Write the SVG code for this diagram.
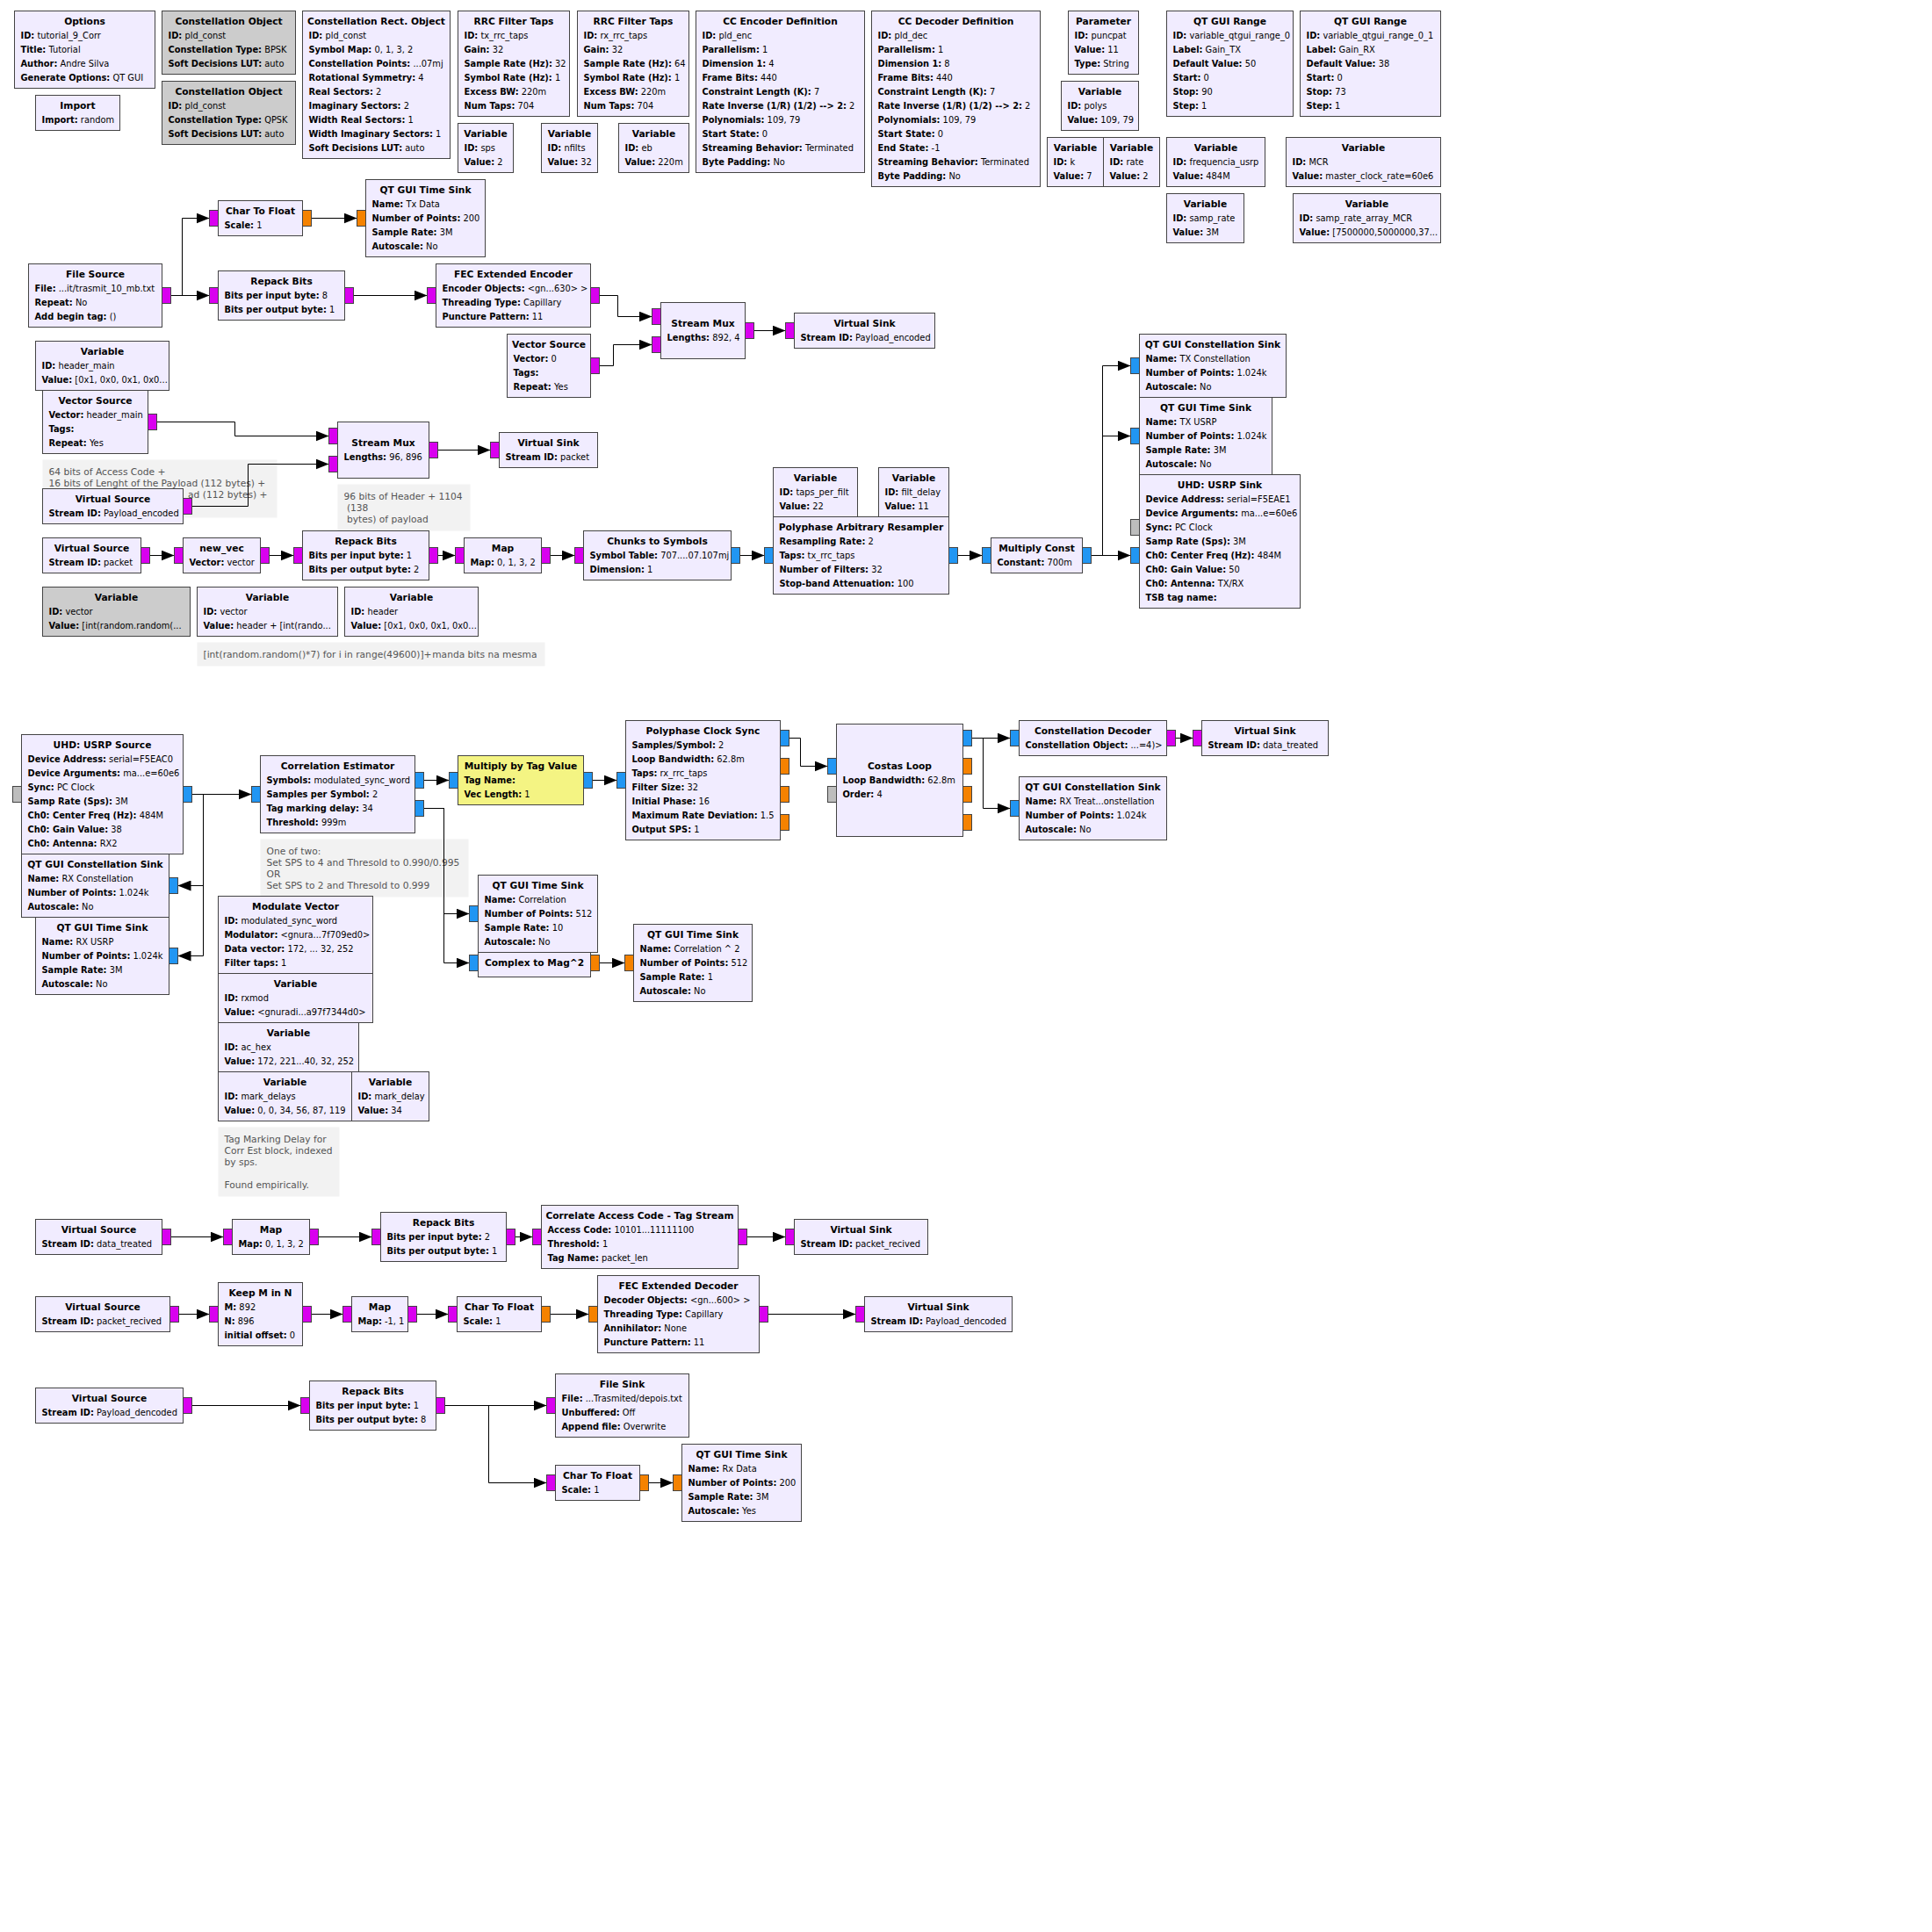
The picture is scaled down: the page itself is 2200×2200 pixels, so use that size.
<svg xmlns="http://www.w3.org/2000/svg" width="2200" height="2200" viewBox="0 0 2200 2200">
<style>
.b{fill:#f1ecff;stroke:#444;stroke-width:1}
.d{fill:#cccccc;stroke:#444;stroke-width:1}
.yb{fill:#f4f483;stroke:#444;stroke-width:1}
.t{font-family:"DejaVu Sans",sans-serif;font-weight:bold;font-size:10.67px;text-anchor:middle;fill:#000}
.p{font-family:"DejaVu Sans",sans-serif;font-size:9.85px;fill:#000}
.k{font-weight:bold}
.cb{fill:#f2f2f2}
.ct{font-family:"DejaVu Sans",sans-serif;font-size:10.67px;fill:#555}
.pm{fill:#d900ef;stroke:#444;stroke-width:1}
.pc{fill:#2196f3;stroke:#444;stroke-width:1}
.pf{fill:#f58200;stroke:#444;stroke-width:1}
.pg{fill:#bdbdbd;stroke:#444;stroke-width:1}
.w{fill:none;stroke:#000;stroke-width:1;marker-end:url(#ah)}
</style>
<defs>
<marker id="ah" markerWidth="15" markerHeight="12" refX="15" refY="6" orient="auto" markerUnits="userSpaceOnUse"><path d="M0,0 L15,6 L0,12 z" fill="#000"/></marker>
<clipPath id="clipc3"><rect x="490" y="731" width="130" height="27"/></clipPath>
</defs>
<rect x="0" y="0" width="2200" height="2200" fill="#fff"/>
<g transform="translate(.5 .5)">

<!-- comment boxes sit underneath everything -->
<g id="comments">
<g id="comment_header_bits"><rect class="cb" x="48" y="523" width="267" height="66"/>
<text class="ct" x="55" y="540">64 bits of Access Code +</text>
<text class="ct" x="55" y="553">16 bits of Lenght of the Payload (112 bytes) +</text>
<text class="ct" x="304" y="566" text-anchor="end">ad (112 bytes) +</text></g>
<g id="comment_packet_bits"><rect class="cb" x="384" y="551" width="151" height="53"/>
<text class="ct" x="391" y="568" xml:space="preserve">96 bits of Header + 1104</text>
<text class="ct" x="391" y="581" xml:space="preserve"> (138</text>
<text class="ct" x="391" y="594" xml:space="preserve"> bytes) of payload</text></g>
<g id="comment_vector"><rect class="cb" x="224" y="731" width="396" height="27"/>
<text class="ct" x="231" y="748">[int(random.random()*7) for i in range(49600)]+</text>
<text class="ct" x="611" y="748" text-anchor="end" clip-path="url(#clipc3)">manda bits na mesma</text></g>
<g id="comment_sps"><rect class="cb" x="296" y="955" width="237" height="66"/>
<text class="ct" x="303" y="972">One of two:</text>
<text class="ct" x="303" y="985">Set SPS to 4 and Thresold to 0.990/0.995</text>
<text class="ct" x="303" y="998">OR</text>
<text class="ct" x="303" y="1011">Set SPS to 2 and Thresold to 0.999</text></g>
<g id="comment_delay"><rect class="cb" x="248" y="1283" width="138" height="79"/>
<text class="ct" x="255" y="1300">Tag Marking Delay for</text>
<text class="ct" x="255" y="1313">Corr Est block, indexed</text>
<text class="ct" x="255" y="1326">by sps.</text>
<text class="ct" x="255" y="1352">Found empirically.</text></g>
</g>

<!-- connections -->
<g id="connectors">
<path class="w" d="M194,336 H207 V248 H238"/>
<path class="w" d="M194,336 H238"/>
<path class="w" d="M354,248 H406"/>
<path class="w" d="M402,336 H486"/>
<path class="w" d="M682,336 H703 V360 H742"/>
<path class="w" d="M682,416 H698 V392 H742"/>
<path class="w" d="M858,376 H894"/>
<path class="w" d="M178,480 H267 V496 H374"/>
<path class="w" d="M218,576 H282 V528 H374"/>
<path class="w" d="M498,512 H558"/>
<path class="w" d="M170,632 H198"/>
<path class="w" d="M306,632 H334"/>
<path class="w" d="M498,632 H518"/>
<path class="w" d="M626,632 H654"/>
<path class="w" d="M842,632 H870"/>
<path class="w" d="M1090,632 H1118"/>
<path class="w" d="M1242,632 H1287"/>
<path class="w" d="M1242,632 H1255 V416 H1287"/>
<path class="w" d="M1242,632 H1255 V496 H1287"/>
<path class="w" d="M218,904 H286"/>
<path class="w" d="M218,904 H231 V1008 H202"/>
<path class="w" d="M218,904 H231 V1088 H202"/>
<path class="w" d="M482,888 H511"/>
<path class="w" d="M482,920 H505 V1040 H534"/>
<path class="w" d="M482,920 H505 V1096 H534"/>
<path class="w" d="M674,888 H702"/>
<path class="w" d="M898,840 H911 V872 H942"/>
<path class="w" d="M1106,840 H1150"/>
<path class="w" d="M1106,840 H1119 V920 H1150"/>
<path class="w" d="M1338,840 H1358"/>
<path class="w" d="M682,1096 H711"/>
<path class="w" d="M194,1408 H254"/>
<path class="w" d="M362,1408 H423"/>
<path class="w" d="M586,1408 H606"/>
<path class="w" d="M850,1408 H894"/>
<path class="w" d="M203,1496 H238"/>
<path class="w" d="M354,1496 H390"/>
<path class="w" d="M474,1496 H510"/>
<path class="w" d="M626,1496 H670"/>
<path class="w" d="M874,1496 H974"/>
<path class="w" d="M218,1600 H342"/>
<path class="w" d="M506,1600 H622"/>
<path class="w" d="M506,1600 H556 V1688 H622"/>
<path class="w" d="M738,1688 H766"/>
</g>

<!-- configuration blocks -->
<g id="options"><rect class="b" x="16" y="12" width="160" height="88"/>
<text class="t" x="96" y="27">Options</text>
<text class="p" x="23" y="43"><tspan class="k">ID:</tspan> tutorial_9_Corr</text>
<text class="p" x="23" y="59"><tspan class="k">Title:</tspan> Tutorial</text>
<text class="p" x="23" y="75"><tspan class="k">Author:</tspan> Andre Silva</text>
<text class="p" x="23" y="91"><tspan class="k">Generate Options:</tspan> QT GUI</text></g>

<g id="import"><rect class="b" x="40" y="108" width="96" height="40"/>
<text class="t" x="88" y="123">Import</text>
<text class="p" x="47" y="139"><tspan class="k">Import:</tspan> random</text></g>

<g id="const_bpsk"><rect class="d" x="184" y="12" width="152" height="72"/>
<text class="t" x="260" y="27">Constellation Object</text>
<text class="p" x="191" y="43"><tspan class="k">ID:</tspan> pld_const</text>
<text class="p" x="191" y="59"><tspan class="k">Constellation Type:</tspan> BPSK</text>
<text class="p" x="191" y="75"><tspan class="k">Soft Decisions LUT:</tspan> auto</text></g>

<g id="const_qpsk"><rect class="d" x="184" y="92" width="152" height="72"/>
<text class="t" x="260" y="107">Constellation Object</text>
<text class="p" x="191" y="123"><tspan class="k">ID:</tspan> pld_const</text>
<text class="p" x="191" y="139"><tspan class="k">Constellation Type:</tspan> QPSK</text>
<text class="p" x="191" y="155"><tspan class="k">Soft Decisions LUT:</tspan> auto</text></g>

<g id="const_rect"><rect class="b" x="344" y="12" width="168" height="168"/>
<text class="t" x="428" y="27">Constellation Rect. Object</text>
<text class="p" x="351" y="43"><tspan class="k">ID:</tspan> pld_const</text>
<text class="p" x="351" y="59"><tspan class="k">Symbol Map:</tspan> 0, 1, 3, 2</text>
<text class="p" x="351" y="75"><tspan class="k">Constellation Points:</tspan> ...07mj</text>
<text class="p" x="351" y="91"><tspan class="k">Rotational Symmetry:</tspan> 4</text>
<text class="p" x="351" y="107"><tspan class="k">Real Sectors:</tspan> 2</text>
<text class="p" x="351" y="123"><tspan class="k">Imaginary Sectors:</tspan> 2</text>
<text class="p" x="351" y="139"><tspan class="k">Width Real Sectors:</tspan> 1</text>
<text class="p" x="351" y="155"><tspan class="k">Width Imaginary Sectors:</tspan> 1</text>
<text class="p" x="351" y="171"><tspan class="k">Soft Decisions LUT:</tspan> auto</text></g>

<g id="rrc_tx"><rect class="b" x="521" y="12" width="127" height="120"/>
<text class="t" x="584.5" y="27">RRC Filter Taps</text>
<text class="p" x="528" y="43"><tspan class="k">ID:</tspan> tx_rrc_taps</text>
<text class="p" x="528" y="59"><tspan class="k">Gain:</tspan> 32</text>
<text class="p" x="528" y="75"><tspan class="k">Sample Rate (Hz):</tspan> 32</text>
<text class="p" x="528" y="91"><tspan class="k">Symbol Rate (Hz):</tspan> 1</text>
<text class="p" x="528" y="107"><tspan class="k">Excess BW:</tspan> 220m</text>
<text class="p" x="528" y="123"><tspan class="k">Num Taps:</tspan> 704</text></g>

<g id="var_sps"><rect class="b" x="521" y="140" width="63" height="56"/>
<text class="t" x="552.5" y="155">Variable</text>
<text class="p" x="528" y="171"><tspan class="k">ID:</tspan> sps</text>
<text class="p" x="528" y="187"><tspan class="k">Value:</tspan> 2</text></g>

<g id="rrc_rx"><rect class="b" x="657" y="12" width="127" height="120"/>
<text class="t" x="720.5" y="27">RRC Filter Taps</text>
<text class="p" x="664" y="43"><tspan class="k">ID:</tspan> rx_rrc_taps</text>
<text class="p" x="664" y="59"><tspan class="k">Gain:</tspan> 32</text>
<text class="p" x="664" y="75"><tspan class="k">Sample Rate (Hz):</tspan> 64</text>
<text class="p" x="664" y="91"><tspan class="k">Symbol Rate (Hz):</tspan> 1</text>
<text class="p" x="664" y="107"><tspan class="k">Excess BW:</tspan> 220m</text>
<text class="p" x="664" y="123"><tspan class="k">Num Taps:</tspan> 704</text></g>

<g id="var_nfilts"><rect class="b" x="616" y="140" width="64" height="56"/>
<text class="t" x="648" y="155">Variable</text>
<text class="p" x="623" y="171"><tspan class="k">ID:</tspan> nfilts</text>
<text class="p" x="623" y="187"><tspan class="k">Value:</tspan> 32</text></g>

<g id="var_eb"><rect class="b" x="704" y="140" width="80" height="56"/>
<text class="t" x="744" y="155">Variable</text>
<text class="p" x="711" y="171"><tspan class="k">ID:</tspan> eb</text>
<text class="p" x="711" y="187"><tspan class="k">Value:</tspan> 220m</text></g>

<g id="cc_encoder"><rect class="b" x="792" y="12" width="192" height="184"/>
<text class="t" x="888" y="27">CC Encoder Definition</text>
<text class="p" x="799" y="43"><tspan class="k">ID:</tspan> pld_enc</text>
<text class="p" x="799" y="59"><tspan class="k">Parallelism:</tspan> 1</text>
<text class="p" x="799" y="75"><tspan class="k">Dimension 1:</tspan> 4</text>
<text class="p" x="799" y="91"><tspan class="k">Frame Bits:</tspan> 440</text>
<text class="p" x="799" y="107"><tspan class="k">Constraint Length (K):</tspan> 7</text>
<text class="p" x="799" y="123"><tspan class="k">Rate Inverse (1/R) (1/2) --&gt; 2:</tspan> 2</text>
<text class="p" x="799" y="139"><tspan class="k">Polynomials:</tspan> 109, 79</text>
<text class="p" x="799" y="155"><tspan class="k">Start State:</tspan> 0</text>
<text class="p" x="799" y="171"><tspan class="k">Streaming Behavior:</tspan> Terminated</text>
<text class="p" x="799" y="187"><tspan class="k">Byte Padding:</tspan> No</text></g>

<g id="cc_decoder"><rect class="b" x="992" y="12" width="192" height="200"/>
<text class="t" x="1088" y="27">CC Decoder Definition</text>
<text class="p" x="999" y="43"><tspan class="k">ID:</tspan> pld_dec</text>
<text class="p" x="999" y="59"><tspan class="k">Parallelism:</tspan> 1</text>
<text class="p" x="999" y="75"><tspan class="k">Dimension 1:</tspan> 8</text>
<text class="p" x="999" y="91"><tspan class="k">Frame Bits:</tspan> 440</text>
<text class="p" x="999" y="107"><tspan class="k">Constraint Length (K):</tspan> 7</text>
<text class="p" x="999" y="123"><tspan class="k">Rate Inverse (1/R) (1/2) --&gt; 2:</tspan> 2</text>
<text class="p" x="999" y="139"><tspan class="k">Polynomials:</tspan> 109, 79</text>
<text class="p" x="999" y="155"><tspan class="k">Start State:</tspan> 0</text>
<text class="p" x="999" y="171"><tspan class="k">End State:</tspan> -1</text>
<text class="p" x="999" y="187"><tspan class="k">Streaming Behavior:</tspan> Terminated</text>
<text class="p" x="999" y="203"><tspan class="k">Byte Padding:</tspan> No</text></g>

<g id="param_puncpat"><rect class="b" x="1216" y="12" width="80" height="72"/>
<text class="t" x="1256" y="27">Parameter</text>
<text class="p" x="1223" y="43"><tspan class="k">ID:</tspan> puncpat</text>
<text class="p" x="1223" y="59"><tspan class="k">Value:</tspan> 11</text>
<text class="p" x="1223" y="75"><tspan class="k">Type:</tspan> String</text></g>

<g id="var_polys"><rect class="b" x="1208" y="92" width="88" height="56"/>
<text class="t" x="1252" y="107">Variable</text>
<text class="p" x="1215" y="123"><tspan class="k">ID:</tspan> polys</text>
<text class="p" x="1215" y="139"><tspan class="k">Value:</tspan> 109, 79</text></g>

<g id="var_k"><rect class="b" x="1192" y="156" width="64" height="56"/>
<text class="t" x="1224" y="171">Variable</text>
<text class="p" x="1199" y="187"><tspan class="k">ID:</tspan> k</text>
<text class="p" x="1199" y="203"><tspan class="k">Value:</tspan> 7</text></g>

<g id="var_rate"><rect class="b" x="1256" y="156" width="64" height="56"/>
<text class="t" x="1288" y="171">Variable</text>
<text class="p" x="1263" y="187"><tspan class="k">ID:</tspan> rate</text>
<text class="p" x="1263" y="203"><tspan class="k">Value:</tspan> 2</text></g>

<g id="range_tx"><rect class="b" x="1328" y="12" width="144" height="120"/>
<text class="t" x="1400" y="27">QT GUI Range</text>
<text class="p" x="1335" y="43"><tspan class="k">ID:</tspan> variable_qtgui_range_0</text>
<text class="p" x="1335" y="59"><tspan class="k">Label:</tspan> Gain_TX</text>
<text class="p" x="1335" y="75"><tspan class="k">Default Value:</tspan> 50</text>
<text class="p" x="1335" y="91"><tspan class="k">Start:</tspan> 0</text>
<text class="p" x="1335" y="107"><tspan class="k">Stop:</tspan> 90</text>
<text class="p" x="1335" y="123"><tspan class="k">Step:</tspan> 1</text></g>

<g id="range_rx"><rect class="b" x="1480" y="12" width="160" height="120"/>
<text class="t" x="1560" y="27">QT GUI Range</text>
<text class="p" x="1487" y="43"><tspan class="k">ID:</tspan> variable_qtgui_range_0_1</text>
<text class="p" x="1487" y="59"><tspan class="k">Label:</tspan> Gain_RX</text>
<text class="p" x="1487" y="75"><tspan class="k">Default Value:</tspan> 38</text>
<text class="p" x="1487" y="91"><tspan class="k">Start:</tspan> 0</text>
<text class="p" x="1487" y="107"><tspan class="k">Stop:</tspan> 73</text>
<text class="p" x="1487" y="123"><tspan class="k">Step:</tspan> 1</text></g>

<g id="var_freq"><rect class="b" x="1328" y="156" width="112" height="56"/>
<text class="t" x="1384" y="171">Variable</text>
<text class="p" x="1335" y="187"><tspan class="k">ID:</tspan> frequencia_usrp</text>
<text class="p" x="1335" y="203"><tspan class="k">Value:</tspan> 484M</text></g>

<g id="var_mcr"><rect class="b" x="1464" y="156" width="176" height="56"/>
<text class="t" x="1552" y="171">Variable</text>
<text class="p" x="1471" y="187"><tspan class="k">ID:</tspan> MCR</text>
<text class="p" x="1471" y="203"><tspan class="k">Value:</tspan> master_clock_rate=60e6</text></g>

<g id="var_samp_rate"><rect class="b" x="1328" y="220" width="88" height="56"/>
<text class="t" x="1372" y="235">Variable</text>
<text class="p" x="1335" y="251"><tspan class="k">ID:</tspan> samp_rate</text>
<text class="p" x="1335" y="267"><tspan class="k">Value:</tspan> 3M</text></g>

<g id="var_samp_rate_array"><rect class="b" x="1472" y="220" width="168" height="56"/>
<text class="t" x="1556" y="235">Variable</text>
<text class="p" x="1479" y="251"><tspan class="k">ID:</tspan> samp_rate_array_MCR</text>
<text class="p" x="1479" y="267"><tspan class="k">Value:</tspan> [7500000,5000000,37...</text></g>

<!-- transmit chain -->
<g id="char_to_float_tx"><rect class="b" x="248" y="228" width="96" height="40"/>
<text class="t" x="296" y="243">Char To Float</text>
<text class="p" x="255" y="259"><tspan class="k">Scale:</tspan> 1</text>
<rect class="pm" x="238" y="239" width="10" height="18"/><rect class="pf" x="344" y="239" width="10" height="18"/></g>

<g id="time_sink_txdata"><rect class="b" x="416" y="204" width="136" height="88"/>
<text class="t" x="484" y="219">QT GUI Time Sink</text>
<text class="p" x="423" y="235"><tspan class="k">Name:</tspan> Tx Data</text>
<text class="p" x="423" y="251"><tspan class="k">Number of Points:</tspan> 200</text>
<text class="p" x="423" y="267"><tspan class="k">Sample Rate:</tspan> 3M</text>
<text class="p" x="423" y="283"><tspan class="k">Autoscale:</tspan> No</text>
<rect class="pf" x="406" y="239" width="10" height="18"/></g>

<g id="file_source"><rect class="b" x="32" y="300" width="152" height="72"/>
<text class="t" x="108" y="315">File Source</text>
<text class="p" x="39" y="331"><tspan class="k">File:</tspan> ...it/trasmit_10_mb.txt</text>
<text class="p" x="39" y="347"><tspan class="k">Repeat:</tspan> No</text>
<text class="p" x="39" y="363"><tspan class="k">Add begin tag:</tspan> ()</text>
<rect class="pm" x="184" y="327" width="10" height="18"/></g>

<g id="repack_8_1"><rect class="b" x="248" y="308" width="144" height="56"/>
<text class="t" x="320" y="323">Repack Bits</text>
<text class="p" x="255" y="339"><tspan class="k">Bits per input byte:</tspan> 8</text>
<text class="p" x="255" y="355"><tspan class="k">Bits per output byte:</tspan> 1</text>
<rect class="pm" x="238" y="327" width="10" height="18"/><rect class="pm" x="392" y="327" width="10" height="18"/></g>

<g id="fec_encoder"><rect class="b" x="496" y="300" width="176" height="72"/>
<text class="t" x="584" y="315">FEC Extended Encoder</text>
<text class="p" x="503" y="331"><tspan class="k">Encoder Objects:</tspan> &lt;gn...630&gt; &gt;</text>
<text class="p" x="503" y="347"><tspan class="k">Threading Type:</tspan> Capillary</text>
<text class="p" x="503" y="363"><tspan class="k">Puncture Pattern:</tspan> 11</text>
<rect class="pm" x="486" y="327" width="10" height="18"/><rect class="pm" x="672" y="327" width="10" height="18"/></g>

<g id="stream_mux_payload"><rect class="b" x="752" y="344" width="96" height="64"/>
<text class="t" x="800" y="371">Stream Mux</text>
<text class="p" x="759" y="387"><tspan class="k">Lengths:</tspan> 892, 4</text>
<rect class="pm" x="742" y="351" width="10" height="18"/><rect class="pm" x="742" y="383" width="10" height="18"/><rect class="pm" x="848" y="367" width="10" height="18"/></g>

<g id="vsink_payload_encoded"><rect class="b" x="904" y="356" width="160" height="40"/>
<text class="t" x="984" y="371">Virtual Sink</text>
<text class="p" x="911" y="387"><tspan class="k">Stream ID:</tspan> Payload_encoded</text>
<rect class="pm" x="894" y="367" width="10" height="18"/></g>

<g id="vector_source_zero"><rect class="b" x="577" y="380" width="95" height="72"/>
<text class="t" x="624.5" y="395">Vector Source</text>
<text class="p" x="584" y="411"><tspan class="k">Vector:</tspan> 0</text>
<text class="p" x="584" y="427"><tspan class="k">Tags:</tspan></text>
<text class="p" x="584" y="443"><tspan class="k">Repeat:</tspan> Yes</text>
<rect class="pm" x="672" y="407" width="10" height="18"/></g>

<g id="var_header_main"><rect class="b" x="40" y="388" width="152" height="56"/>
<text class="t" x="116" y="403">Variable</text>
<text class="p" x="47" y="419"><tspan class="k">ID:</tspan> header_main</text>
<text class="p" x="47" y="435"><tspan class="k">Value:</tspan> [0x1, 0x0, 0x1, 0x0...</text></g>

<g id="vector_source_header"><rect class="b" x="48" y="444" width="120" height="72"/>
<text class="t" x="108" y="459">Vector Source</text>
<text class="p" x="55" y="475"><tspan class="k">Vector:</tspan> header_main</text>
<text class="p" x="55" y="491"><tspan class="k">Tags:</tspan></text>
<text class="p" x="55" y="507"><tspan class="k">Repeat:</tspan> Yes</text>
<rect class="pm" x="168" y="471" width="10" height="18"/></g>

<g id="stream_mux_packet"><rect class="b" x="384" y="480" width="104" height="64"/>
<text class="t" x="436" y="507">Stream Mux</text>
<text class="p" x="391" y="523"><tspan class="k">Lengths:</tspan> 96, 896</text>
<rect class="pm" x="374" y="487" width="10" height="18"/><rect class="pm" x="374" y="519" width="10" height="18"/><rect class="pm" x="488" y="503" width="10" height="18"/></g>

<g id="vsink_packet"><rect class="b" x="568" y="492" width="112" height="40"/>
<text class="t" x="624" y="507">Virtual Sink</text>
<text class="p" x="575" y="523"><tspan class="k">Stream ID:</tspan> packet</text>
<rect class="pm" x="558" y="503" width="10" height="18"/></g>

<g id="vsource_payload_encoded"><rect class="b" x="48" y="556" width="160" height="40"/>
<text class="t" x="128" y="571">Virtual Source</text>
<text class="p" x="55" y="587"><tspan class="k">Stream ID:</tspan> Payload_encoded</text>
<rect class="pm" x="208" y="567" width="10" height="18"/></g>

<g id="vsource_packet"><rect class="b" x="48" y="612" width="112" height="40"/>
<text class="t" x="104" y="627">Virtual Source</text>
<text class="p" x="55" y="643"><tspan class="k">Stream ID:</tspan> packet</text>
<rect class="pm" x="160" y="623" width="10" height="18"/></g>

<g id="new_vec"><rect class="b" x="208" y="612" width="88" height="40"/>
<text class="t" x="252" y="627">new_vec</text>
<text class="p" x="215" y="643"><tspan class="k">Vector:</tspan> vector</text>
<rect class="pm" x="198" y="623" width="10" height="18"/><rect class="pm" x="296" y="623" width="10" height="18"/></g>

<g id="repack_1_2"><rect class="b" x="344" y="604" width="144" height="56"/>
<text class="t" x="416" y="619">Repack Bits</text>
<text class="p" x="351" y="635"><tspan class="k">Bits per input byte:</tspan> 1</text>
<text class="p" x="351" y="651"><tspan class="k">Bits per output byte:</tspan> 2</text>
<rect class="pm" x="334" y="623" width="10" height="18"/><rect class="pm" x="488" y="623" width="10" height="18"/></g>

<g id="map_tx"><rect class="b" x="528" y="612" width="88" height="40"/>
<text class="t" x="572" y="627">Map</text>
<text class="p" x="535" y="643"><tspan class="k">Map:</tspan> 0, 1, 3, 2</text>
<rect class="pm" x="518" y="623" width="10" height="18"/><rect class="pm" x="616" y="623" width="10" height="18"/></g>

<g id="chunks_to_symbols"><rect class="b" x="664" y="604" width="168" height="56"/>
<text class="t" x="748" y="619">Chunks to Symbols</text>
<text class="p" x="671" y="635"><tspan class="k">Symbol Table:</tspan> 707....07.107mj</text>
<text class="p" x="671" y="651"><tspan class="k">Dimension:</tspan> 1</text>
<rect class="pm" x="654" y="623" width="10" height="18"/><rect class="pc" x="832" y="623" width="10" height="18"/></g>

<g id="var_taps_per_filt"><rect class="b" x="880" y="532" width="96" height="56"/>
<text class="t" x="928" y="547">Variable</text>
<text class="p" x="887" y="563"><tspan class="k">ID:</tspan> taps_per_filt</text>
<text class="p" x="887" y="579"><tspan class="k">Value:</tspan> 22</text></g>

<g id="var_filt_delay"><rect class="b" x="1000" y="532" width="80" height="56"/>
<text class="t" x="1040" y="547">Variable</text>
<text class="p" x="1007" y="563"><tspan class="k">ID:</tspan> filt_delay</text>
<text class="p" x="1007" y="579"><tspan class="k">Value:</tspan> 11</text></g>

<g id="pfb_resampler"><rect class="b" x="880" y="588" width="200" height="88"/>
<text class="t" x="980" y="603">Polyphase Arbitrary Resampler</text>
<text class="p" x="887" y="619"><tspan class="k">Resampling Rate:</tspan> 2</text>
<text class="p" x="887" y="635"><tspan class="k">Taps:</tspan> tx_rrc_taps</text>
<text class="p" x="887" y="651"><tspan class="k">Number of Filters:</tspan> 32</text>
<text class="p" x="887" y="667"><tspan class="k">Stop-band Attenuation:</tspan> 100</text>
<rect class="pc" x="870" y="623" width="10" height="18"/><rect class="pc" x="1080" y="623" width="10" height="18"/></g>

<g id="multiply_const"><rect class="b" x="1128" y="612" width="104" height="40"/>
<text class="t" x="1180" y="627">Multiply Const</text>
<text class="p" x="1135" y="643"><tspan class="k">Constant:</tspan> 700m</text>
<rect class="pc" x="1118" y="623" width="10" height="18"/><rect class="pc" x="1232" y="623" width="10" height="18"/></g>

<g id="const_sink_tx"><rect class="b" x="1297" y="380" width="167" height="72"/>
<text class="t" x="1380.5" y="395">QT GUI Constellation Sink</text>
<text class="p" x="1304" y="411"><tspan class="k">Name:</tspan> TX Constellation</text>
<text class="p" x="1304" y="427"><tspan class="k">Number of Points:</tspan> 1.024k</text>
<text class="p" x="1304" y="443"><tspan class="k">Autoscale:</tspan> No</text>
<rect class="pc" x="1287" y="407" width="10" height="18"/></g>

<g id="time_sink_txusrp"><rect class="b" x="1297" y="452" width="151" height="88"/>
<text class="t" x="1372.5" y="467">QT GUI Time Sink</text>
<text class="p" x="1304" y="483"><tspan class="k">Name:</tspan> TX USRP</text>
<text class="p" x="1304" y="499"><tspan class="k">Number of Points:</tspan> 1.024k</text>
<text class="p" x="1304" y="515"><tspan class="k">Sample Rate:</tspan> 3M</text>
<text class="p" x="1304" y="531"><tspan class="k">Autoscale:</tspan> No</text>
<rect class="pc" x="1287" y="487" width="10" height="18"/></g>

<g id="usrp_sink"><rect class="b" x="1297" y="540" width="183" height="152"/>
<text class="t" x="1388.5" y="555">UHD: USRP Sink</text>
<text class="p" x="1304" y="571"><tspan class="k">Device Address:</tspan> serial=F5EAE1</text>
<text class="p" x="1304" y="587"><tspan class="k">Device Arguments:</tspan> ma...e=60e6</text>
<text class="p" x="1304" y="603"><tspan class="k">Sync:</tspan> PC Clock</text>
<text class="p" x="1304" y="619"><tspan class="k">Samp Rate (Sps):</tspan> 3M</text>
<text class="p" x="1304" y="635"><tspan class="k">Ch0: Center Freq (Hz):</tspan> 484M</text>
<text class="p" x="1304" y="651"><tspan class="k">Ch0: Gain Value:</tspan> 50</text>
<text class="p" x="1304" y="667"><tspan class="k">Ch0: Antenna:</tspan> TX/RX</text>
<text class="p" x="1304" y="683"><tspan class="k">TSB tag name:</tspan></text>
<rect class="pg" x="1287" y="591" width="10" height="18"/><rect class="pc" x="1287" y="623" width="10" height="18"/></g>

<g id="var_vector_disabled"><rect class="d" x="48" y="668" width="168" height="56"/>
<text class="t" x="132" y="683">Variable</text>
<text class="p" x="55" y="699"><tspan class="k">ID:</tspan> vector</text>
<text class="p" x="55" y="715"><tspan class="k">Value:</tspan> [int(random.random(...</text></g>

<g id="var_vector"><rect class="b" x="224" y="668" width="160" height="56"/>
<text class="t" x="304" y="683">Variable</text>
<text class="p" x="231" y="699"><tspan class="k">ID:</tspan> vector</text>
<text class="p" x="231" y="715"><tspan class="k">Value:</tspan> header + [int(rando...</text></g>

<g id="var_header"><rect class="b" x="392" y="668" width="152" height="56"/>
<text class="t" x="468" y="683">Variable</text>
<text class="p" x="399" y="699"><tspan class="k">ID:</tspan> header</text>
<text class="p" x="399" y="715"><tspan class="k">Value:</tspan> [0x1, 0x0, 0x1, 0x0...</text></g>

<!-- receive chain -->
<g id="usrp_source"><rect class="b" x="24" y="836" width="184" height="136"/>
<text class="t" x="116" y="851">UHD: USRP Source</text>
<text class="p" x="31" y="867"><tspan class="k">Device Address:</tspan> serial=F5EAC0</text>
<text class="p" x="31" y="883"><tspan class="k">Device Arguments:</tspan> ma...e=60e6</text>
<text class="p" x="31" y="899"><tspan class="k">Sync:</tspan> PC Clock</text>
<text class="p" x="31" y="915"><tspan class="k">Samp Rate (Sps):</tspan> 3M</text>
<text class="p" x="31" y="931"><tspan class="k">Ch0: Center Freq (Hz):</tspan> 484M</text>
<text class="p" x="31" y="947"><tspan class="k">Ch0: Gain Value:</tspan> 38</text>
<text class="p" x="31" y="963"><tspan class="k">Ch0: Antenna:</tspan> RX2</text>
<rect class="pg" x="14" y="895" width="10" height="18"/><rect class="pc" x="208" y="895" width="10" height="18"/></g>

<g id="const_sink_rx"><rect class="b" x="24" y="972" width="168" height="72"/>
<text class="t" x="108" y="987">QT GUI Constellation Sink</text>
<text class="p" x="31" y="1003"><tspan class="k">Name:</tspan> RX Constellation</text>
<text class="p" x="31" y="1019"><tspan class="k">Number of Points:</tspan> 1.024k</text>
<text class="p" x="31" y="1035"><tspan class="k">Autoscale:</tspan> No</text>
<rect class="pc" x="192" y="999" width="10" height="18"/></g>

<g id="time_sink_rxusrp"><rect class="b" x="40" y="1044" width="152" height="88"/>
<text class="t" x="116" y="1059">QT GUI Time Sink</text>
<text class="p" x="47" y="1075"><tspan class="k">Name:</tspan> RX USRP</text>
<text class="p" x="47" y="1091"><tspan class="k">Number of Points:</tspan> 1.024k</text>
<text class="p" x="47" y="1107"><tspan class="k">Sample Rate:</tspan> 3M</text>
<text class="p" x="47" y="1123"><tspan class="k">Autoscale:</tspan> No</text>
<rect class="pc" x="192" y="1079" width="10" height="18"/></g>

<g id="corr_est"><rect class="b" x="296" y="860" width="176" height="88"/>
<text class="t" x="384" y="875">Correlation Estimator</text>
<text class="p" x="303" y="891"><tspan class="k">Symbols:</tspan> modulated_sync_word</text>
<text class="p" x="303" y="907"><tspan class="k">Samples per Symbol:</tspan> 2</text>
<text class="p" x="303" y="923"><tspan class="k">Tag marking delay:</tspan> 34</text>
<text class="p" x="303" y="939"><tspan class="k">Threshold:</tspan> 999m</text>
<rect class="pc" x="286" y="895" width="10" height="18"/><rect class="pc" x="472" y="879" width="10" height="18"/><rect class="pc" x="472" y="911" width="10" height="18"/></g>

<g id="multiply_by_tag"><rect class="yb" x="521" y="860" width="143" height="56"/>
<text class="t" x="592.5" y="875">Multiply by Tag Value</text>
<text class="p" x="528" y="891"><tspan class="k">Tag Name:</tspan></text>
<text class="p" x="528" y="907"><tspan class="k">Vec Length:</tspan> 1</text>
<rect class="pc" x="511" y="879" width="10" height="18"/><rect class="pc" x="664" y="879" width="10" height="18"/></g>

<g id="clock_sync"><rect class="b" x="712" y="820" width="176" height="136"/>
<text class="t" x="800" y="835">Polyphase Clock Sync</text>
<text class="p" x="719" y="851"><tspan class="k">Samples/Symbol:</tspan> 2</text>
<text class="p" x="719" y="867"><tspan class="k">Loop Bandwidth:</tspan> 62.8m</text>
<text class="p" x="719" y="883"><tspan class="k">Taps:</tspan> rx_rrc_taps</text>
<text class="p" x="719" y="899"><tspan class="k">Filter Size:</tspan> 32</text>
<text class="p" x="719" y="915"><tspan class="k">Initial Phase:</tspan> 16</text>
<text class="p" x="719" y="931"><tspan class="k">Maximum Rate Deviation:</tspan> 1.5</text>
<text class="p" x="719" y="947"><tspan class="k">Output SPS:</tspan> 1</text>
<rect class="pc" x="702" y="879" width="10" height="18"/><rect class="pc" x="888" y="831" width="10" height="18"/><rect class="pf" x="888" y="863" width="10" height="18"/><rect class="pf" x="888" y="895" width="10" height="18"/><rect class="pf" x="888" y="927" width="10" height="18"/></g>

<g id="costas_loop"><rect class="b" x="952" y="824" width="144" height="128"/>
<text class="t" x="1024" y="875">Costas Loop</text>
<text class="p" x="959" y="891"><tspan class="k">Loop Bandwidth:</tspan> 62.8m</text>
<text class="p" x="959" y="907"><tspan class="k">Order:</tspan> 4</text>
<rect class="pc" x="942" y="863" width="10" height="18"/><rect class="pg" x="942" y="895" width="10" height="18"/><rect class="pc" x="1096" y="831" width="10" height="18"/><rect class="pf" x="1096" y="863" width="10" height="18"/><rect class="pf" x="1096" y="895" width="10" height="18"/><rect class="pf" x="1096" y="927" width="10" height="18"/></g>

<g id="const_decoder"><rect class="b" x="1160" y="820" width="168" height="40"/>
<text class="t" x="1244" y="835">Constellation Decoder</text>
<text class="p" x="1167" y="851"><tspan class="k">Constellation Object:</tspan> ...=4)&gt;</text>
<rect class="pc" x="1150" y="831" width="10" height="18"/><rect class="pm" x="1328" y="831" width="10" height="18"/></g>

<g id="vsink_data_treated"><rect class="b" x="1368" y="820" width="144" height="40"/>
<text class="t" x="1440" y="835">Virtual Sink</text>
<text class="p" x="1375" y="851"><tspan class="k">Stream ID:</tspan> data_treated</text>
<rect class="pm" x="1358" y="831" width="10" height="18"/></g>

<g id="const_sink_rxtreated"><rect class="b" x="1160" y="884" width="168" height="72"/>
<text class="t" x="1244" y="899">QT GUI Constellation Sink</text>
<text class="p" x="1167" y="915"><tspan class="k">Name:</tspan> RX Treat...onstellation</text>
<text class="p" x="1167" y="931"><tspan class="k">Number of Points:</tspan> 1.024k</text>
<text class="p" x="1167" y="947"><tspan class="k">Autoscale:</tspan> No</text>
<rect class="pc" x="1150" y="911" width="10" height="18"/></g>

<g id="time_sink_corr"><rect class="b" x="544" y="996" width="136" height="88"/>
<text class="t" x="612" y="1011">QT GUI Time Sink</text>
<text class="p" x="551" y="1027"><tspan class="k">Name:</tspan> Correlation</text>
<text class="p" x="551" y="1043"><tspan class="k">Number of Points:</tspan> 512</text>
<text class="p" x="551" y="1059"><tspan class="k">Sample Rate:</tspan> 10</text>
<text class="p" x="551" y="1075"><tspan class="k">Autoscale:</tspan> No</text>
<rect class="pc" x="534" y="1031" width="10" height="18"/></g>

<g id="complex_to_mag2"><rect class="b" x="544" y="1084" width="128" height="28"/>
<text class="t" x="608" y="1099">Complex to Mag^2</text>
<rect class="pc" x="534" y="1087" width="10" height="18"/><rect class="pf" x="672" y="1087" width="10" height="18"/></g>

<g id="time_sink_corr2"><rect class="b" x="721" y="1052" width="135" height="88"/>
<text class="t" x="788.5" y="1067">QT GUI Time Sink</text>
<text class="p" x="728" y="1083"><tspan class="k">Name:</tspan> Correlation ^ 2</text>
<text class="p" x="728" y="1099"><tspan class="k">Number of Points:</tspan> 512</text>
<text class="p" x="728" y="1115"><tspan class="k">Sample Rate:</tspan> 1</text>
<text class="p" x="728" y="1131"><tspan class="k">Autoscale:</tspan> No</text>
<rect class="pf" x="711" y="1087" width="10" height="18"/></g>

<g id="modulate_vector"><rect class="b" x="248" y="1020" width="176" height="88"/>
<text class="t" x="336" y="1035">Modulate Vector</text>
<text class="p" x="255" y="1051"><tspan class="k">ID:</tspan> modulated_sync_word</text>
<text class="p" x="255" y="1067"><tspan class="k">Modulator:</tspan> &lt;gnura...7f709ed0&gt;</text>
<text class="p" x="255" y="1083"><tspan class="k">Data vector:</tspan> 172, ... 32, 252</text>
<text class="p" x="255" y="1099"><tspan class="k">Filter taps:</tspan> 1</text></g>

<g id="var_rxmod"><rect class="b" x="248" y="1108" width="176" height="56"/>
<text class="t" x="336" y="1123">Variable</text>
<text class="p" x="255" y="1139"><tspan class="k">ID:</tspan> rxmod</text>
<text class="p" x="255" y="1155"><tspan class="k">Value:</tspan> &lt;gnuradi...a97f7344d0&gt;</text></g>

<g id="var_ac_hex"><rect class="b" x="248" y="1164" width="160" height="56"/>
<text class="t" x="328" y="1179">Variable</text>
<text class="p" x="255" y="1195"><tspan class="k">ID:</tspan> ac_hex</text>
<text class="p" x="255" y="1211"><tspan class="k">Value:</tspan> 172, 221...40, 32, 252</text></g>

<g id="var_mark_delays"><rect class="b" x="248" y="1220" width="152" height="56"/>
<text class="t" x="324" y="1235">Variable</text>
<text class="p" x="255" y="1251"><tspan class="k">ID:</tspan> mark_delays</text>
<text class="p" x="255" y="1267"><tspan class="k">Value:</tspan> 0, 0, 34, 56, 87, 119</text></g>

<g id="var_mark_delay"><rect class="b" x="400" y="1220" width="88" height="56"/>
<text class="t" x="444" y="1235">Variable</text>
<text class="p" x="407" y="1251"><tspan class="k">ID:</tspan> mark_delay</text>
<text class="p" x="407" y="1267"><tspan class="k">Value:</tspan> 34</text></g>

<!-- packet recovery -->
<g id="vsource_data_treated"><rect class="b" x="40" y="1388" width="144" height="40"/>
<text class="t" x="112" y="1403">Virtual Source</text>
<text class="p" x="47" y="1419"><tspan class="k">Stream ID:</tspan> data_treated</text>
<rect class="pm" x="184" y="1399" width="10" height="18"/></g>

<g id="map_rx"><rect class="b" x="264" y="1388" width="88" height="40"/>
<text class="t" x="308" y="1403">Map</text>
<text class="p" x="271" y="1419"><tspan class="k">Map:</tspan> 0, 1, 3, 2</text>
<rect class="pm" x="254" y="1399" width="10" height="18"/><rect class="pm" x="352" y="1399" width="10" height="18"/></g>

<g id="repack_2_1"><rect class="b" x="433" y="1380" width="143" height="56"/>
<text class="t" x="504.5" y="1395">Repack Bits</text>
<text class="p" x="440" y="1411"><tspan class="k">Bits per input byte:</tspan> 2</text>
<text class="p" x="440" y="1427"><tspan class="k">Bits per output byte:</tspan> 1</text>
<rect class="pm" x="423" y="1399" width="10" height="18"/><rect class="pm" x="576" y="1399" width="10" height="18"/></g>

<g id="correlate_access_code"><rect class="b" x="616" y="1372" width="224" height="72"/>
<text class="t" x="728" y="1387">Correlate Access Code - Tag Stream</text>
<text class="p" x="623" y="1403"><tspan class="k">Access Code:</tspan> 10101...11111100</text>
<text class="p" x="623" y="1419"><tspan class="k">Threshold:</tspan> 1</text>
<text class="p" x="623" y="1435"><tspan class="k">Tag Name:</tspan> packet_len</text>
<rect class="pm" x="606" y="1399" width="10" height="18"/><rect class="pm" x="840" y="1399" width="10" height="18"/></g>

<g id="vsink_packet_recived"><rect class="b" x="904" y="1388" width="152" height="40"/>
<text class="t" x="980" y="1403">Virtual Sink</text>
<text class="p" x="911" y="1419"><tspan class="k">Stream ID:</tspan> packet_recived</text>
<rect class="pm" x="894" y="1399" width="10" height="18"/></g>

<g id="vsource_packet_recived"><rect class="b" x="40" y="1476" width="153" height="40"/>
<text class="t" x="116.5" y="1491">Virtual Source</text>
<text class="p" x="47" y="1507"><tspan class="k">Stream ID:</tspan> packet_recived</text>
<rect class="pm" x="193" y="1487" width="10" height="18"/></g>

<g id="keep_m_in_n"><rect class="b" x="248" y="1460" width="96" height="72"/>
<text class="t" x="296" y="1475">Keep M in N</text>
<text class="p" x="255" y="1491"><tspan class="k">M:</tspan> 892</text>
<text class="p" x="255" y="1507"><tspan class="k">N:</tspan> 896</text>
<text class="p" x="255" y="1523"><tspan class="k">initial offset:</tspan> 0</text>
<rect class="pm" x="238" y="1487" width="10" height="18"/><rect class="pm" x="344" y="1487" width="10" height="18"/></g>

<g id="map_soft"><rect class="b" x="400" y="1476" width="64" height="40"/>
<text class="t" x="432" y="1491">Map</text>
<text class="p" x="407" y="1507"><tspan class="k">Map:</tspan> -1, 1</text>
<rect class="pm" x="390" y="1487" width="10" height="18"/><rect class="pm" x="464" y="1487" width="10" height="18"/></g>

<g id="char_to_float_soft"><rect class="b" x="520" y="1476" width="96" height="40"/>
<text class="t" x="568" y="1491">Char To Float</text>
<text class="p" x="527" y="1507"><tspan class="k">Scale:</tspan> 1</text>
<rect class="pm" x="510" y="1487" width="10" height="18"/><rect class="pf" x="616" y="1487" width="10" height="18"/></g>

<g id="fec_decoder"><rect class="b" x="680" y="1452" width="184" height="88"/>
<text class="t" x="772" y="1467">FEC Extended Decoder</text>
<text class="p" x="687" y="1483"><tspan class="k">Decoder Objects:</tspan> &lt;gn...600&gt; &gt;</text>
<text class="p" x="687" y="1499"><tspan class="k">Threading Type:</tspan> Capillary</text>
<text class="p" x="687" y="1515"><tspan class="k">Annihilator:</tspan> None</text>
<text class="p" x="687" y="1531"><tspan class="k">Puncture Pattern:</tspan> 11</text>
<rect class="pf" x="670" y="1487" width="10" height="18"/><rect class="pm" x="864" y="1487" width="10" height="18"/></g>

<g id="vsink_payload_dencoded"><rect class="b" x="984" y="1476" width="168" height="40"/>
<text class="t" x="1068" y="1491">Virtual Sink</text>
<text class="p" x="991" y="1507"><tspan class="k">Stream ID:</tspan> Payload_dencoded</text>
<rect class="pm" x="974" y="1487" width="10" height="18"/></g>

<g id="vsource_payload_dencoded"><rect class="b" x="40" y="1580" width="168" height="40"/>
<text class="t" x="124" y="1595">Virtual Source</text>
<text class="p" x="47" y="1611"><tspan class="k">Stream ID:</tspan> Payload_dencoded</text>
<rect class="pm" x="208" y="1591" width="10" height="18"/></g>

<g id="repack_1_8"><rect class="b" x="352" y="1572" width="144" height="56"/>
<text class="t" x="424" y="1587">Repack Bits</text>
<text class="p" x="359" y="1603"><tspan class="k">Bits per input byte:</tspan> 1</text>
<text class="p" x="359" y="1619"><tspan class="k">Bits per output byte:</tspan> 8</text>
<rect class="pm" x="342" y="1591" width="10" height="18"/><rect class="pm" x="496" y="1591" width="10" height="18"/></g>

<g id="file_sink"><rect class="b" x="632" y="1564" width="152" height="72"/>
<text class="t" x="708" y="1579">File Sink</text>
<text class="p" x="639" y="1595"><tspan class="k">File:</tspan> ...Trasmited/depois.txt</text>
<text class="p" x="639" y="1611"><tspan class="k">Unbuffered:</tspan> Off</text>
<text class="p" x="639" y="1627"><tspan class="k">Append file:</tspan> Overwrite</text>
<rect class="pm" x="622" y="1591" width="10" height="18"/></g>

<g id="char_to_float_rx"><rect class="b" x="632" y="1668" width="96" height="40"/>
<text class="t" x="680" y="1683">Char To Float</text>
<text class="p" x="639" y="1699"><tspan class="k">Scale:</tspan> 1</text>
<rect class="pm" x="622" y="1679" width="10" height="18"/><rect class="pf" x="728" y="1679" width="10" height="18"/></g>

<g id="time_sink_rxdata"><rect class="b" x="776" y="1644" width="136" height="88"/>
<text class="t" x="844" y="1659">QT GUI Time Sink</text>
<text class="p" x="783" y="1675"><tspan class="k">Name:</tspan> Rx Data</text>
<text class="p" x="783" y="1691"><tspan class="k">Number of Points:</tspan> 200</text>
<text class="p" x="783" y="1707"><tspan class="k">Sample Rate:</tspan> 3M</text>
<text class="p" x="783" y="1723"><tspan class="k">Autoscale:</tspan> Yes</text>
<rect class="pf" x="766" y="1679" width="10" height="18"/></g>

</g>
</svg>
